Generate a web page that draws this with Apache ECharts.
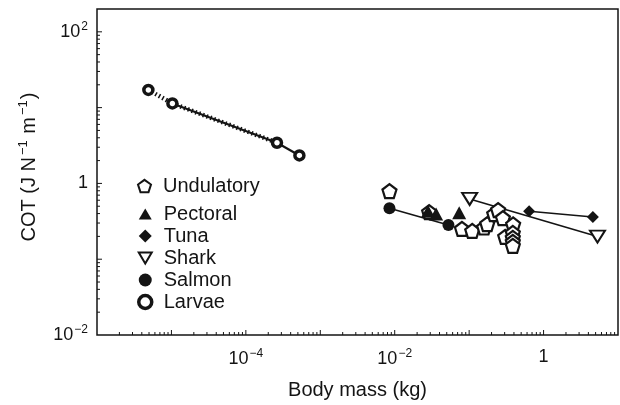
<!DOCTYPE html>
<html><head><meta charset="utf-8">
<script src="https://cdn.jsdelivr.net/npm/echarts@6/dist/echarts.min.js"></script>
<style>html,body{margin:0;padding:0;background:#fff}#c{width:620px;height:405px}</style>
</head><body><div id="c"></div>
<script>
// ---- data ----
const undulatoryMass = [0.0085, 0.029, 0.080, 0.110, 0.159, 0.175, 0.217, 0.245, 0.284, 0.390, 0.305, 0.386, 0.386, 0.386, 0.386];
const undulatoryCOT  = [0.79, 0.418, 0.251, 0.236, 0.262, 0.291, 0.394, 0.444, 0.348, 0.287, 0.197, 0.222, 0.191, 0.169, 0.150];
const pectoralMass = [0.028, 0.036, 0.0735];
const pectoralCOT  = [0.43, 0.394, 0.41];
const tunaMass = [0.64, 4.6];
const tunaCOT  = [0.43, 0.36];
const sharkMass = [0.1016, 5.3];
const sharkCOT  = [0.624, 0.199];
const salmonMass = [0.0085, 0.0527];
const salmonCOT  = [0.471, 0.283];
const larvaeMass = [4.9e-6, 1.03e-5, 2.62e-4, 5.24e-4];
const larvaeCOT  = [17.1, 11.35, 3.44, 2.34];

const xMin = 1e-6, xMax = 10;
const yMin = 0.01, yMax = 200;
const xLabelExps = [-4, -2, 0];
const yLabelExps = [-2, 0, 2];
const minorMultipliers = [2, 3, 4, 5, 6, 7, 8, 9];
const xDecades = [-6, -5, -4, -3, -2, -1, 0, 1];
const yDecades = [-2, -1, 0, 1, 2];

const INK = '#141414';
const FONT = 'Liberation Sans, Arial, sans-serif';

function pairs(xs, ys) { return xs.map((x, i) => [x, ys[i]]); }

function expLabel(allowed) {
  return function (v) {
    const l = Math.log10(v);
    const e = Math.round(l);
    if (Math.abs(l - e) > 1e-6 || allowed.indexOf(e) < 0) return '';
    if (e === 0) return '{b|1}';
    return '{b|10}{sup|' + (e < 0 ? '\u2212' + (-e) : e) + '}';
  };
}

// tick mark positions (axis decoration)
const xTickData = [], yTickData = [];
xDecades.forEach(d => {
  const p = Math.pow(10, d);
  if (p > xMin && p < xMax) xTickData.push([p, yMin, 5]);
  minorMultipliers.forEach(k => { const v = k * p; if (v > xMin && v < xMax) xTickData.push([v, yMin, 3]); });
});
yDecades.forEach(d => {
  const p = Math.pow(10, d);
  if (p > yMin && p < yMax) yTickData.push([xMin, p, 5]);
  minorMultipliers.forEach(k => { const v = k * p; if (v > yMin && v < yMax) yTickData.push([xMin, v, 3]); });
});

const pentagon = 'path://M0,-1 L0.951,-0.309 L0.588,0.809 L-0.588,0.809 L-0.951,-0.309 Z';
const downTri = 'path://M-1,-0.85 L1,-0.85 L0,0.85 Z';
const upTri = 'path://M-1,0.85 L1,0.85 L0,-0.85 Z';

const rich = {
  b: { fontSize: 18, fontFamily: FONT, color: INK },
  sup: { fontSize: 12, fontFamily: FONT, color: INK, padding: [0, 0, 11, 1] }
};

const legendText = { fontSize: 20, fontFamily: FONT, color: INK, padding: [0, 0, 0, 7], lineHeight: 18 };
const solid = { color: INK, borderColor: INK, borderWidth: 0, opacity: 1 };
const open = (w) => ({ color: '#fff', borderColor: INK, borderWidth: w, opacity: 1 });

const chart = echarts.init(document.getElementById('c'), null, { renderer: 'canvas' });
const lineBase = { type: 'line', symbol: 'none', silent: true, z: 2 };

chart.setOption({
  animation: false,
  backgroundColor: '#fff',
  grid: { left: 97, right: 2, top: 9, bottom: 67, show: true, borderColor: INK, borderWidth: 1.5, backgroundColor: 'transparent' },
  xAxis: {
    type: 'log', logBase: 10, min: xMin, max: xMax, splitNumber: 7,
    name: 'Body mass (kg)', nameLocation: 'middle', nameGap: 45,
    nameTextStyle: { fontSize: 20, fontFamily: FONT, color: INK },
    axisLine: { show: false }, axisTick: { show: false }, splitLine: { show: false },
    axisLabel: { margin: 13, formatter: expLabel(xLabelExps), rich: rich, showMinLabel: false, showMaxLabel: false }
  },
  yAxis: {
    type: 'log', logBase: 10, min: yMin, max: yMax, splitNumber: 4,
    name: 'COT (J N{sup|\u22121} m{sup|\u22121})', nameLocation: 'middle', nameGap: 56, nameRotate: 90,
    nameTextStyle: { fontSize: 20, fontFamily: FONT, color: INK, padding: [0, 0, 0, 10],
      rich: { sup: { fontSize: 13, fontFamily: FONT, color: INK, padding: [0, 1, 11, 2] } } },
    axisLine: { show: false }, axisTick: { show: false }, splitLine: { show: false },
    axisLabel: { margin: 9, formatter: expLabel(yLabelExps), rich: rich }
  },
  legend: [
    { orient: 'vertical', left: 132, top: 171, itemWidth: 13, itemHeight: 13, itemGap: 2, textStyle: legendText,
      data: [{ name: 'Undulatory', icon: pentagon, itemStyle: open(2) }] },
    { orient: 'vertical', left: 132, top: 199, itemWidth: 13, itemHeight: 13, itemGap: 2, textStyle: legendText,
      data: [{ name: 'Pectoral', icon: upTri, itemStyle: solid }, { name: 'Tuna', icon: 'diamond', itemStyle: solid },
             { name: 'Shark', icon: downTri, itemStyle: open(2) },
             { name: 'Salmon', icon: 'circle', itemStyle: solid },
             { name: 'Larvae', icon: 'circle', itemStyle: open(3.5) }] }
  ],
  series: [
    // fitted/connecting lines
    Object.assign({}, lineBase, { data: pairs(salmonMass, salmonCOT), lineStyle: { color: INK, width: 1.6 } }),
    Object.assign({}, lineBase, { data: pairs(tunaMass, tunaCOT), lineStyle: { color: INK, width: 1.6 } }),
    Object.assign({}, lineBase, { data: pairs(sharkMass, sharkCOT), lineStyle: { color: INK, width: 1.6 } }),
    Object.assign({}, lineBase, { data: pairs(larvaeMass.slice(0, 3), larvaeCOT.slice(0, 3)), lineStyle: { color: INK, width: 4.5, type: [1.5, 2.5] } }),
    Object.assign({}, lineBase, { data: pairs(larvaeMass.slice(1), larvaeCOT.slice(1)), lineStyle: { color: INK, width: 2.2 } }),
    // markers
    { name: 'Undulatory', type: 'scatter', z: 3, symbol: pentagon, symbolSize: 14, data: pairs(undulatoryMass, undulatoryCOT),
      itemStyle: open(2.2) },
    { name: 'Pectoral', type: 'scatter', z: 4, symbol: upTri, symbolSize: [14, 13], data: pairs(pectoralMass, pectoralCOT),
      itemStyle: solid },
    { name: 'Tuna', type: 'scatter', z: 4, symbol: 'diamond', symbolSize: 12, data: pairs(tunaMass, tunaCOT),
      itemStyle: solid },
    { name: 'Shark', type: 'scatter', z: 4, symbol: downTri, symbolSize: [15, 12], data: pairs(sharkMass, sharkCOT),
      itemStyle: open(2) },
    { name: 'Salmon', type: 'scatter', z: 4, symbol: 'circle', symbolSize: 12, data: pairs(salmonMass, salmonCOT),
      itemStyle: solid },
    { name: 'Larvae', type: 'scatter', z: 4, symbol: 'circle', symbolSize: 9, data: pairs(larvaeMass, larvaeCOT),
      itemStyle: open(3.5) },
    // tick marks
    { type: 'custom', silent: true, z: 5, clip: false, data: xTickData, encode: { x: 0, y: 1 },
      renderItem: function (p, api) {
        const pt = api.coord([api.value(0), api.value(1)]); const L = api.value(2);
        return { type: 'line', shape: { x1: pt[0], y1: pt[1], x2: pt[0], y2: pt[1] - L }, style: { stroke: INK, lineWidth: 1 } };
      } },
    { type: 'custom', silent: true, z: 5, clip: false, data: yTickData, encode: { x: 0, y: 1 },
      renderItem: function (p, api) {
        const pt = api.coord([api.value(0), api.value(1)]); const L = api.value(2);
        return { type: 'line', shape: { x1: pt[0], y1: pt[1], x2: pt[0] + L, y2: pt[1] }, style: { stroke: INK, lineWidth: 1 } };
      } }
  ]
});
</script></body></html>
